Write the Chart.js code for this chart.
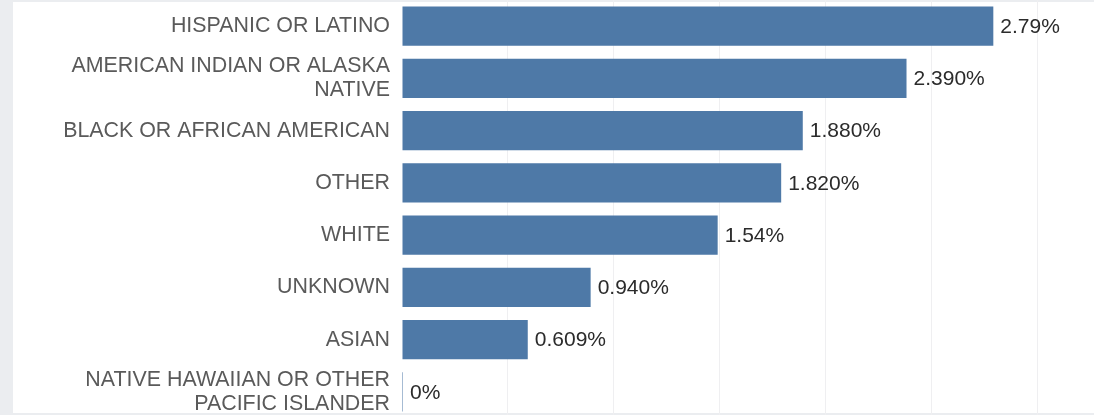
<!DOCTYPE html>
<html>
<head>
<meta charset="utf-8">
<script src="https://cdn.jsdelivr.net/npm/chart.js@4/dist/chart.umd.min.js"></script>
<style>
  html, body { margin: 0; padding: 0; overflow: hidden; background: #ebedf0; }
  body { width: 1094px; height: 415px; position: relative; }
  #panel { position: absolute; left: 13px; top: 2px; width: 1081px; height: 411px; background: #fff; }
  #chart { position: absolute; left: 13px; top: 0; }
</style>
</head>
<body>
<div id="panel"></div>
<canvas id="chart" width="1130" height="418"></canvas>
<script>
const categories = [
  'HISPANIC OR LATINO',
  ['AMERICAN INDIAN OR ALASKA', 'NATIVE'],
  'BLACK OR AFRICAN AMERICAN',
  'OTHER',
  'WHITE',
  'UNKNOWN',
  'ASIAN',
  ['NATIVE HAWAIIAN OR OTHER', 'PACIFIC ISLANDER']
];
const rates = [2.793, 2.383, 1.893, 1.791, 1.491, 0.891, 0.594, 0];
const rateLabels = ['2.79%', '2.390%', '1.880%', '1.820%', '1.54%', '0.940%', '0.609%', '0%'];

const font = '"Liberation Sans", Arial, sans-serif';

// value text next to each bar end
const barLabels = {
  id: 'barLabels',
  afterDatasetsDraw(chart) {
    const ctx = chart.ctx;
    const meta = chart.getDatasetMeta(0);
    ctx.save();
    ctx.font = '21px ' + font;
    ctx.fillStyle = '#2b2b2b';
    ctx.textAlign = 'left';
    ctx.textBaseline = 'middle';
    meta.data.forEach((bar, i) => {
      ctx.fillText(rateLabels[i], bar.x + 7, bar.y + 1);
    });
    ctx.restore();
  }
};

const ctx = document.getElementById('chart').getContext('2d');
new Chart(ctx, {
  type: 'bar',
  data: {
    labels: categories,
    datasets: [{
      data: rates,
      backgroundColor: '#4e79a7',
      borderWidth: 0,
      barPercentage: 0.75,
      categoryPercentage: 1,
      minBarLength: 1
    }]
  },
  options: {
    indexAxis: 'y',
    responsive: false,
    animation: false,
    devicePixelRatio: 1,
    layout: { padding: 0 },
    plugins: {
      legend: { display: false },
      tooltip: { enabled: false }
    },
    scales: {
      x: {
        min: 0,
        max: 3.5,
        ticks: { display: false, stepSize: 0.5 },
        border: { display: false },
        grid: {
          drawTicks: false,
          color: c => c.tick && c.tick.value === 0 ? 'rgba(0,0,0,0)' : '#efeff1'
        },
        afterFit: s => { s.height = 0; s.paddingLeft = 0; s.paddingRight = 0; }
      },
      y: {
        border: { display: false },
        grid: { display: false, drawTicks: false },
        ticks: {
          color: '#5a5a5a',
          font: { family: font, size: 21.4, lineHeight: 1.13 },
          padding: 12,
          autoSkip: false
        },
        afterFit: s => { s.width = 389; s.paddingTop = 0; s.paddingBottom = 0; }
      }
    }
  },
  plugins: [barLabels]
});
</script>
</body>
</html>
